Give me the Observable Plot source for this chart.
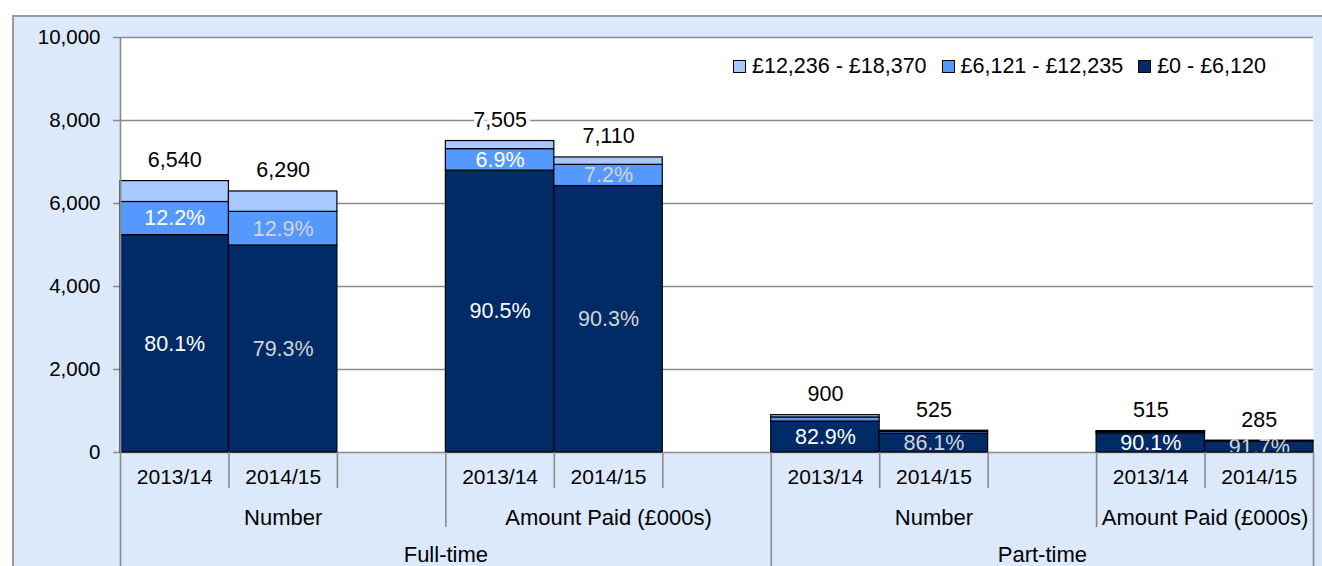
<!DOCTYPE html>
<html>
<head>
<meta charset="utf-8">
<script src="https://cdn.jsdelivr.net/npm/d3@7"></script>
<script src="https://cdn.jsdelivr.net/npm/@observablehq/plot@0.6"></script>
<style>
  html, body { margin: 0; padding: 0; background: #ffffff; }
  #wrap { position: relative; width: 1322px; height: 566px; overflow: hidden; font-family: "Liberation Sans", Arial, sans-serif; }
  #panel { position: absolute; left: 12px; top: 15px; width: 1310px; height: 551px; background: #dce9fb; border-top: 2px solid #9a9a9a; border-left: 2px solid #9a9a9a; box-sizing: border-box; }
  #chart { position: absolute; left: 0; top: 0; }
  #legend { position: absolute; left: 733px; top: 53px; display: flex; align-items: center; font-size: 21.5px; color: #000; line-height: 26px; white-space: nowrap; }
  .item { display: flex; align-items: center; margin-right: 15px; }
  .sw { width: 11px; height: 11px; border: 1px solid #000; margin-right: 6px; }
</style>
</head>
<body>
<div id="wrap">
  <div id="panel"></div>
  <div id="chart"></div>
  <div id="legend"></div>
</div>
<script>
// ---- data ----
const slots = ["FT-N-13","FT-N-14","gap1","FT-A-13","FT-A-14","gap2","PT-N-13","PT-N-14","gap3","PT-A-13","PT-A-14"];
const barKeys = ["FT-N-13","FT-N-14","FT-A-13","FT-A-14","PT-N-13","PT-N-14","PT-A-13","PT-A-14"];
const barYears = ["2013/14","2014/15","2013/14","2014/15","2013/14","2014/15","2013/14","2014/15"];
const totals = [6540, 6290, 7505, 7110, 900, 525, 515, 285];
const pctLow = [80.1, 79.3, 90.5, 90.3, 82.9, 86.1, 90.1, 91.7];
const pctMid = [12.2, 12.9, 6.9, 7.2, 11.0, 8.0, 6.0, 5.0];
const showMid = [true, true, true, true, false, false, false, false];
const bands = ["£0 - £6,120", "£6,121 - £12,235", "£12,236 - £18,370"];
const bandColors = ["#002b66", "#5599ff", "#a6c9ff"];
const legendOrder = ["£12,236 - £18,370", "£6,121 - £12,235", "£0 - £6,120"];
const groupLabels = [{key: "FT-N-14", label: "Number"}, {key: "FT-A-14", label: "Amount Paid (£000s)"},
                     {key: "PT-N-14", label: "Number"}];
const groupLabelsShifted = [{key: "PT-A-14", label: "Amount Paid (£000s)"}];
const topLabels = [{key: "gap3", label: "Part-time"}];
const topLabelsShifted = [{key: "FT-A-13", label: "Full-time"}];
const yTicks = [0, 2000, 4000, 6000, 8000, 10000];
// separators: key whose left edge carries a line, and its level (0 year, 1 group, 2 top)
const seps = [
  {key: "FT-N-14", level: 0}, {key: "gap1", level: 0}, {key: "FT-A-13", level: 1},
  {key: "FT-A-14", level: 0}, {key: "gap2", level: 0}, {key: "PT-N-13", level: 2},
  {key: "PT-N-14", level: 0}, {key: "gap3", level: 0}, {key: "PT-A-13", level: 1},
  {key: "PT-A-14", level: 0}
];

// ---- derived tables ----
const segs = [];
const pctLabels = [];
barKeys.forEach((k, i) => {
  const low = totals[i] * pctLow[i] / 100;
  const mid = totals[i] * pctMid[i] / 100;
  const high = totals[i] - low - mid;
  segs.push({key: k, band: bands[0], value: low});
  segs.push({key: k, band: bands[1], value: mid});
  segs.push({key: k, band: bands[2], value: high});
  pctLabels.push({key: k, y: low / 2, text: pctLow[i].toFixed(1) + "%", year: barYears[i]});
  if (showMid[i]) pctLabels.push({key: k, y: low + mid / 2, text: pctMid[i].toFixed(1) + "%", year: barYears[i]});
});
const totalLabels = barKeys.map((k, i) => ({key: k, total: totals[i]}));
const yearLabels = barKeys.map((k, i) => ({key: k, label: barYears[i]}));

const W = 1322, H = 566, ML = 120, MR = 9, MT = 37, MB = 114;
const bw = (W - ML - MR) / slots.length;
const depth = [36, 75, 114];
const font = "Liberation Sans, Arial, sans-serif";
const lineStyle = {stroke: "#8a8a8a", strokeWidth: 1.6};

const chart = Plot.plot({
  width: W, height: H,
  marginLeft: ML, marginRight: MR, marginTop: MT, marginBottom: MB,
  style: {background: "transparent", fontFamily: font, color: "#000", overflow: "visible"},
  x: {domain: slots, padding: 0, round: false, axis: null},
  y: {domain: [0, 10000], axis: null},
  color: {domain: bands, range: bandColors},
  marks: [
    Plot.frame({fill: "white", stroke: "none"}),
    Plot.ruleY(yTicks, {stroke: "#8a8a8a", strokeWidth: 1.3, insetLeft: -7}),
    Plot.axisY({ticks: yTicks, tickFormat: d3.format(","), tickSize: 0, tickPadding: 20, fontSize: 20.5}),
    Plot.barY(segs, {x: "key", y: "value", fill: "band", z: "band", order: bands, stroke: "#000", strokeWidth: 1.2}),
    Plot.text(pctLabels, {x: "key", y: "y", text: "text", fontSize: 21.5, clip: true,
      fill: d => d.year === "2013/14" ? "#ffffff" : "#d4d4d4"}),
    Plot.text(totalLabels, {x: "key", y: "total", text: d => d3.format(",")(d.total), fontSize: 21.5,
      lineAnchor: "bottom", dy: -14, fill: "#000", stroke: "white", strokeWidth: 8, paintOrder: "stroke"}),
    // axis line + outer edges
    Plot.ruleX([slots[0]], {x: d => d, y1: 10000, y2: 0, dx: -bw / 2, insetBottom: -depth[2], ...lineStyle}),
    Plot.ruleX([slots[slots.length - 1]], {x: d => d, y1: 0, y2: 0, dx: bw / 2, insetBottom: -depth[2], ...lineStyle}),
    ...[0, 1, 2].map(lv => Plot.ruleX(seps.filter(s => s.level === lv), {x: "key", y1: 0, y2: 0, dx: -bw / 2,
      insetBottom: -depth[lv], ...lineStyle})),
    Plot.text(yearLabels, {x: "key", y: 0, text: "label", dy: 25, fontSize: 21, fill: "#000"}),
    Plot.text(groupLabels, {x: "key", y: 0, text: "label", dy: 65, fontSize: 22, fill: "#000"}),
    Plot.text(groupLabelsShifted, {x: "key", y: 0, text: "label", dy: 65, dx: -bw / 2, fontSize: 22, fill: "#000"}),
    Plot.text(topLabels, {x: "key", y: 0, text: "label", dy: 102, fontSize: 22, fill: "#000"}),
    Plot.text(topLabelsShifted, {x: "key", y: 0, text: "label", dy: 102, dx: -bw / 2, fontSize: 22, fill: "#000"})
  ]
});
document.getElementById("chart").appendChild(chart);

// legend
const legend = document.getElementById("legend");
legendOrder.forEach(b => {
  const item = document.createElement("div");
  item.className = "item";
  const sw = document.createElement("span");
  sw.className = "sw";
  sw.style.background = bandColors[bands.indexOf(b)];
  const t = document.createElement("span");
  t.textContent = b;
  item.appendChild(sw);
  item.appendChild(t);
  legend.appendChild(item);
});
</script>
</body>
</html>
